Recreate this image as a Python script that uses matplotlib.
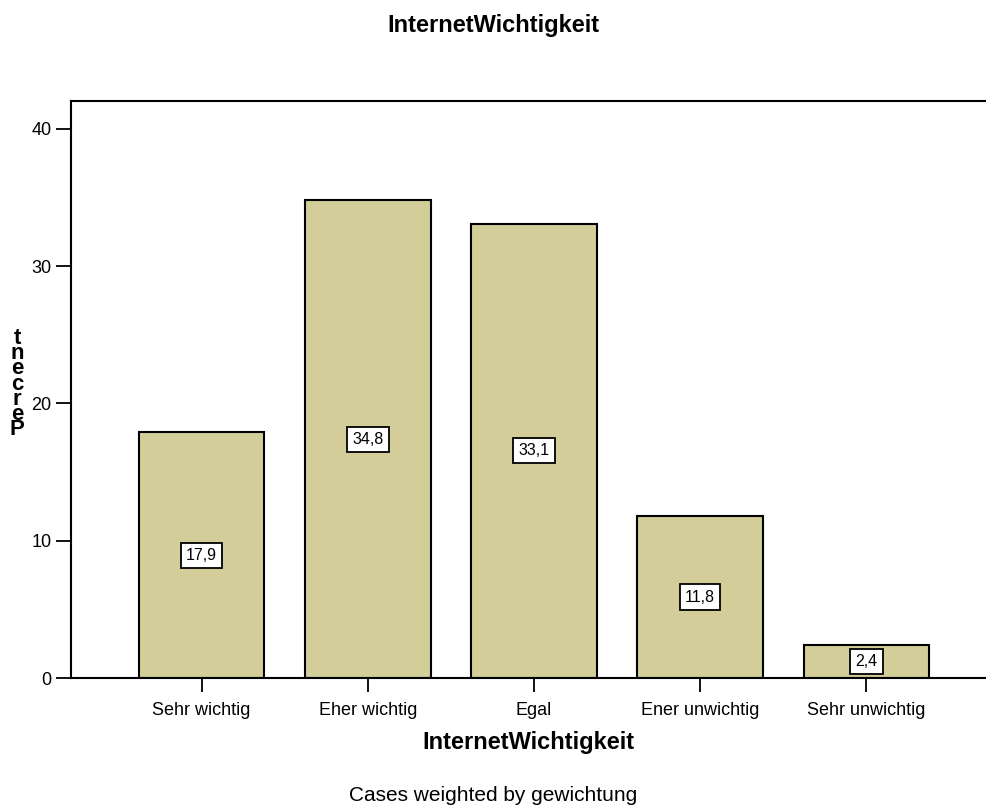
import matplotlib.pyplot as plt

plt.rcParams['font.family'] = ['Liberation Sans', 'DejaVu Sans']

categories = ['Sehr wichtig', 'Eher wichtig', 'Egal', 'Ener unwichtig', 'Sehr unwichtig']
percent = [17.9, 34.8, 33.1, 11.8, 2.4]
value_labels = ['17,9', '34,8', '33,1', '11,8', '2,4']
y_ticks = [0, 10, 20, 30, 40]

fig = plt.figure(figsize=(9.86, 8.09), dpi=100)
ax = fig.add_axes([0.072, 0.1619, 0.928, 0.7133])

xpos = list(range(len(categories)))
ax.bar(xpos, percent, width=0.755, color='#d3ce99', edgecolor='black', linewidth=1.5, zorder=2)

# value boxes in the middle of each bar
for x, v, lab in zip(xpos, percent, value_labels):
    ax.text(x, v / 2, lab, ha='center', va='center', fontsize=11.5, zorder=3,
            bbox=dict(boxstyle='square,pad=0.32', facecolor='white', edgecolor='black', linewidth=1.3))

ax.set_xlim(-0.786, 4.72)
ax.set_ylim(0, 42.04)
ax.set_xticks(xpos)
ax.set_xticklabels(categories, fontsize=13)
ax.set_yticks(y_ticks)
ax.set_yticklabels([str(t) for t in y_ticks], fontsize=13)
ax.tick_params(axis='x', direction='out', length=10, width=1.3, pad=7)
ax.tick_params(axis='y', direction='out', length=11, width=1.3, pad=3)
ax.spines['right'].set_visible(False)
for s in ['left', 'top', 'bottom']:
    ax.spines[s].set_linewidth(1.5)

ax.set_xlabel('InternetWichtigkeit', fontsize=17, fontweight='bold', labelpad=9)
fig.text(0.5, 0.969, 'InternetWichtigkeit', ha='center', va='center', fontsize=17, fontweight='bold')
fig.text(0.5, 0.017, 'Cases weighted by gewichtung', ha='center', va='center', fontsize=15)

# y-axis label: letters stacked bottom-to-top, as in the original output
word = 'Percent'
fig.text(17 / 986, (809 - 384) / 809, '\n'.join(reversed(word)), ha='center', va='center',
         fontsize=16, fontweight='bold', linespacing=0.64, multialignment='center')

fig.savefig('out.png', dpi=100)
